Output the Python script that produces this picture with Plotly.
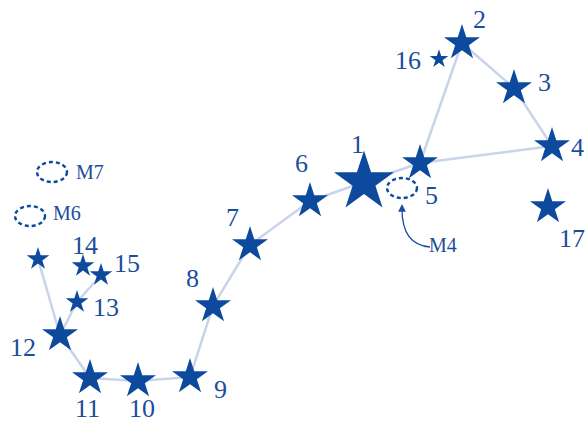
import plotly.graph_objects as go
import numpy as np

# Star catalogue (chart coordinates)
star_ids = ["1", "2", "3", "4", "5", "6", "7", "8", "9", "10", "11", "12",
            "13", "14", "15", "16", "17", ""]
star_x = [364, 462, 514, 552, 420, 310, 250, 213, 190, 138, 90, 60,
          77, 83, 101, 439, 548, 38]
star_y = [182, 43, 88, 146, 163, 201, 245, 306, 377, 381, 378, 335,
          302, 266, 275, 59, 207, 259]
star_mag = [1, 2, 2, 2, 2, 2, 2, 2, 2, 2, 2, 2, 3, 3, 3, 4, 2, 3]

# Connections (pairs of star ids; "" = unlabeled star)
edges = [("1", "6"), ("6", "7"), ("7", "8"), ("8", "9"), ("9", "10"),
         ("10", "11"), ("11", "12"), ("12", ""), ("12", "13"), ("13", "15"),
         ("1", "5"), ("5", "2"), ("2", "3"), ("3", "4"), ("4", "5")]

# Clusters (dashed ellipses)
cluster_names = ["M4", "M6", "M7"]
cluster_x = [402, 30, 52]
cluster_y = [188, 216, 172]

# styling
STAR_COL = "#0d4a9e"
TEXT_COL = "#1b4d9c"
LINE_COL = "#c9d3ea"
size_by_mag = {1: 45, 2: 27, 3: 17, 4: 14}
label_off = {"1": (-7, -38), "2": (17, -24), "3": (30, -6), "4": (25, 1), "5": (11, 32),
             "6": (-9, -38), "7": (-18, -28), "8": (-21, -28), "9": (30, 12),
             "10": (4, 27), "11": (-3, 30), "12": (-37, 12), "13": (29, 5),
             "14": (2, -21), "15": (26, -12), "16": (-31, 1), "17": (24, 31)}

idx = {s: i for i, s in enumerate(star_ids)}
lx, ly = [], []
for a, b in edges:
    lx += [star_x[idx[a]], star_x[idx[b]], None]
    ly += [star_y[idx[a]], star_y[idx[b]], None]

fig = go.Figure()
fig.add_trace(go.Scatter(x=lx, y=ly, mode="lines",
                         line=dict(color=LINE_COL, width=2.5),
                         hoverinfo="skip", showlegend=False))
fig.add_trace(go.Scatter(x=star_x, y=star_y, mode="markers",
                         marker=dict(symbol="star", color=STAR_COL, opacity=1,
                                     size=[size_by_mag[m] for m in star_mag],
                                     line=dict(width=0)),
                         text=star_ids, showlegend=False))

for s, x, y in zip(star_ids, star_x, star_y):
    if not s:
        continue
    dx, dy = label_off[s]
    fig.add_annotation(x=x + dx, y=y + dy, text=s, showarrow=False,
                       font=dict(family="Liberation Serif", size=26, color=TEXT_COL))

ell_w, ell_h = 30, 20
cl_label_off = {"M4": (41, 57), "M6": (37, -3), "M7": (38, 0)}
for n, x, y in zip(cluster_names, cluster_x, cluster_y):
    fig.add_shape(type="circle", xref="x", yref="y",
                  x0=x - ell_w / 2, x1=x + ell_w / 2, y0=y - ell_h / 2, y1=y + ell_h / 2,
                  line=dict(color=STAR_COL, width=2.4, dash="4px,3px"))
    dx, dy = cl_label_off[n]
    fig.add_annotation(x=x + dx, y=y + dy, text=n, showarrow=False,
                       font=dict(family="Liberation Serif", size=20, color=TEXT_COL))

# curved pointer from M4 label to the M4 ellipse
cx, cy = cluster_x[0], cluster_y[0]
x0, y0 = cx + 28, cy + 59
x1, y1 = cx, cy + 16
fig.add_shape(type="path", xref="x", yref="y",
              path=f"M {x0},{y0} Q {cx},{cy + 57} {x1},{y1 + 5}",
              line=dict(color=TEXT_COL, width=1.3))
fig.add_annotation(x=x1, y=y1, ax=x1, ay=y1 + 7, xref="x", yref="y",
                   axref="x", ayref="y", text="", showarrow=True,
                   arrowhead=2, arrowsize=1.2, arrowwidth=1.3, arrowcolor=TEXT_COL)

fig.update_layout(width=588, height=423, margin=dict(l=0, r=0, t=0, b=0),
                  plot_bgcolor="white", paper_bgcolor="white")
fig.update_xaxes(range=[0, 588], visible=False)
fig.update_yaxes(range=[423, 0], visible=False)
fig.write_html("out.html", config={"displayModeBar": False},
               post_script="document.body.style.margin='0';document.body.style.overflow='hidden';")
